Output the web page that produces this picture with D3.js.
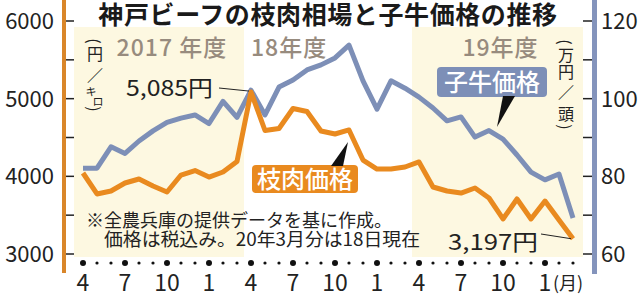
<!DOCTYPE html>
<html><head><meta charset="utf-8">
<script src="https://cdn.jsdelivr.net/npm/d3@7"></script>
<style>
html,body{margin:0;padding:0;background:#fff;}
svg{display:block;}
text{font-family:"Noto Sans CJK JP","Noto Sans",sans-serif;}
</style></head>
<body>
<svg id="c" width="640" height="294"></svg>
<script>
// ---- data ----
const months = d3.range(36); // Apr 2017 .. Mar 2020
const monthTickIdx = [0,3,6,9,12,15,18,21,24,27,30,33];
const monthTickLabels = ["4","7","10","1","4","7","10","1","4","7","10","1"];
const carcass = [4043,3773,3811,3914,3966,3876,3798,4017,4075,3991,4056,4191,
                 5085,4590,4616,4873,4835,4584,4545,4597,4210,4094,4094,4120,
                 4185,3863,3811,3785,3850,3721,3451,3708,3451,3682,3438,3197];
const calf = [82.1,82.1,87.6,85.9,89.1,91.7,93.9,95.0,95.8,93.6,99.3,95.2,
              102.2,95.8,103.0,104.8,107.4,108.7,110.5,113.8,104.6,97.3,104.6,102.7,
              100.4,97.6,94.3,95.3,90.1,91.8,89.6,85.5,81.1,79.1,80.6,69.3];
const leftTicks = [3000,4000,5000,6000];
const leftMinor = [3500,4500,5500];
const rightTicks = [60,80,100,120];
const rightMinor = [70,90,110];
const fyBands = [[0,11],[24,35]];
const fyLabels = [{t:"2017 年度",i:2.4},{t:"18年度",i:12.0},{t:"19年度",i:27.1}];

const ORANGE = "#e98a1f", BLUE = "#7d8fb7";
const svg = d3.select("#c");
const x = d3.scaleLinear().domain([0,35]).range([83,573]);
const yL = d3.scaleLinear().domain([3000,6000]).range([254,21]);
const yR = d3.scaleLinear().domain([60,120]).range([254,21]);

// bands
svg.selectAll("rect.band").data(fyBands).join("rect")
  .attr("x", d => d[0]===0 ? 74 : x(d[0]-0.5))
  .attr("width", d => (d[1]===35 ? 583 : x(d[1]+0.5)) - (d[0]===0 ? 74 : x(d[0]-0.5)))
  .attr("y", 27).attr("height", 230).attr("fill", "#fdf8e1");

// title
svg.append("text").attr("x", 328).attr("y", 24).attr("text-anchor","middle")
  .attr("font-size", 25).attr("font-weight", 700).attr("fill","#1a1a1a")
  .attr("letter-spacing", 0.6)
  .text("神戸ビーフの枝肉相場と子牛価格の推移");

// FY labels
svg.selectAll("text.fy").data(fyLabels).join("text")
  .attr("x", d => x(d.i)).attr("y", 56).attr("font-size", 23).attr("font-weight",500)
  .attr("letter-spacing", 1).attr("fill","#978b7e")
  .text(d => d.t);

// axis bars
svg.append("rect").attr("x",62).attr("y",0).attr("width",4).attr("height",273).attr("fill","#d9862a");
svg.append("rect").attr("x",592).attr("y",0).attr("width",5).attr("height",274).attr("fill","#8494bc");

// left ticks
svg.selectAll("line.lt").data(leftTicks.concat(leftMinor)).join("line")
  .attr("x1",66).attr("x2",74).attr("y1",d=>yL(d)).attr("y2",d=>yL(d))
  .attr("stroke","#222").attr("stroke-width",1.5);
svg.selectAll("text.ll").data(leftTicks).join("text")
  .attr("x",54).attr("y",d=>yL(d)+8).attr("text-anchor","end")
  .attr("font-size",22).attr("font-family","'Noto Sans',sans-serif").attr("fill","#222")
  .text(d=>d);
// right ticks
svg.selectAll("line.rt").data(rightTicks.concat(rightMinor)).join("line")
  .attr("x1",583).attr("x2",592).attr("y1",d=>yR(d)).attr("y2",d=>yR(d))
  .attr("stroke","#222").attr("stroke-width",1.5);
svg.selectAll("text.rl").data(rightTicks).join("text")
  .attr("x",601).attr("y",d=>yR(d)+8).attr("text-anchor","start")
  .attr("font-size",22).attr("font-family","'Noto Sans',sans-serif").attr("fill","#222")
  .text(d=>d);

// unit labels (vertical, one glyph per line)
function vunit(items, cx){
  items.forEach(it=>{
    const px = cx + (it.dx||0);
    const t = svg.append("text").attr("x",px).attr("y",it.y)
      .attr("text-anchor","middle").attr("dominant-baseline","central")
      .attr("font-size",it.s||16).attr("fill","#222").text(it.c);
    if(it.rot) t.attr("transform",`rotate(90,${px},${it.y})`);
  });
}
vunit([{c:"(",y:41,rot:true},{c:"円",y:53},{c:"／",y:74},
       {c:"キ",y:91,s:11,dx:-4},{c:"ロ",y:101,s:11,dx:3},{c:")",y:109,rot:true}], 95);
vunit([{c:"(",y:42,rot:true},{c:"万",y:54},{c:"円",y:71},{c:"／",y:91},{c:"頭",y:113},{c:")",y:127,rot:true}], 566);

// x axis dots
svg.selectAll("circle.dot").data(months).join("circle")
  .attr("cx", d=>x(d)).attr("cy",263)
  .attr("r", d => monthTickIdx.includes(d) ? 3 : 1.6).attr("fill","#111");
svg.selectAll("text.xl").data(monthTickIdx).join("text")
  .attr("x", d=>x(d)).attr("y",291).attr("text-anchor","middle")
  .attr("font-size",23).attr("font-family","'Noto Sans',sans-serif").attr("fill","#222")
  .text((d,k)=>monthTickLabels[k]);
svg.append("text").attr("x",553).attr("y",290).attr("font-size",18).attr("fill","#222").text("(月)");

// lines
const lineR = d3.line().x((d,i)=>x(i)).y(d=>yR(d));
const lineL = d3.line().x((d,i)=>x(i)).y(d=>yL(d));
svg.append("path").attr("d", lineR(calf)).attr("fill","none").attr("stroke",BLUE)
  .attr("stroke-width",5).attr("stroke-linejoin","round");
svg.append("path").attr("d", lineL(carcass)).attr("fill","none").attr("stroke",ORANGE)
  .attr("stroke-width",5).attr("stroke-linejoin","round");

// annotations
const peakI = 12, lastI = 35;
svg.append("text").attr("x",126).attr("y",96).attr("font-size",22).attr("fill","#222")
  .attr("textLength",87).attr("lengthAdjust","spacingAndGlyphs")
  .text(d3.format(",")(carcass[peakI]) + "円");
svg.append("line").attr("x1",219).attr("y1",88).attr("x2",x(peakI)-2).attr("y2",yL(carcass[peakI])-1)
  .attr("stroke","#222").attr("stroke-width",1);
svg.append("text").attr("x",448).attr("y",250).attr("font-size",22).attr("fill","#222")
  .attr("textLength",90).attr("lengthAdjust","spacingAndGlyphs")
  .text(d3.format(",")(carcass[lastI]) + "円");
svg.append("line").attr("x1",541).attr("y1",234).attr("x2",x(lastI)-2).attr("y2",yL(carcass[lastI]))
  .attr("stroke","#222").attr("stroke-width",1);

// legend boxes
svg.append("rect").attr("x",437).attr("y",67).attr("width",110).attr("height",30).attr("rx",4).attr("fill",BLUE);
svg.append("text").attr("x",492).attr("y",91).attr("text-anchor","middle").attr("font-size",24)
  .attr("font-weight",500).attr("fill","#fff").text("子牛価格");
svg.append("path").attr("d","M503,96L515,96L497,127Z").attr("fill","#111");

svg.append("rect").attr("x",252).attr("y",165).attr("width",106).attr("height",28).attr("rx",4).attr("fill",ORANGE);
svg.append("text").attr("x",305).attr("y",188).attr("text-anchor","middle").attr("font-size",24)
  .attr("font-weight",500).attr("fill","#fff").text("枝肉価格");
svg.append("path").attr("d","M331,166L343,166L348,142Z").attr("fill","#111");

// note
svg.append("text").attr("x",86).attr("y",227).attr("font-size",18).attr("fill","#222")
  .attr("textLength",306).attr("lengthAdjust","spacingAndGlyphs")
  .text("※全農兵庫の提供データを基に作成。");
svg.append("text").attr("x",104).attr("y",246).attr("font-size",18).attr("fill","#222")
  .attr("textLength",316).attr("lengthAdjust","spacingAndGlyphs")
  .text("価格は税込み。20年3月分は18日現在");
</script>
</body></html>
